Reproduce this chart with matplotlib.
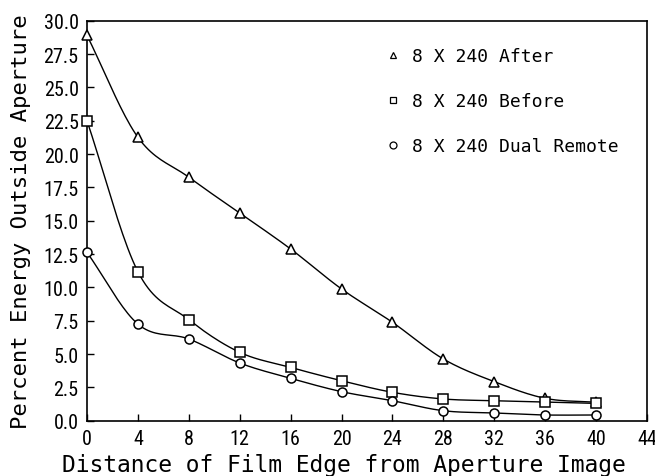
import numpy as np
import matplotlib
matplotlib.use("Agg")
import matplotlib.pyplot as plt
from matplotlib.lines import Line2D
from matplotlib import font_manager as fm

distance = [0, 4, 8, 12, 16, 20, 24, 28, 32, 36, 40]
after = [28.9, 21.26, 18.26, 15.58, 12.88, 9.88, 7.38, 4.63, 2.93, 1.68, 1.38]
before = [22.5, 11.18, 7.58, 5.13, 4.0, 3.0, 2.13, 1.63, 1.5, 1.4, 1.3]
dual_remote = [12.63, 7.25, 6.13, 4.33, 3.18, 2.18, 1.5, 0.75, 0.58, 0.43, 0.43]
labels = ["8 X 240 After", "8 X 240 Before", "8 X 240 Dual Remote"]
markers = ["^", "s", "o"]
x_ticks = list(range(0, 45, 4))
y_ticks = [i * 2.5 for i in range(13)]


def smooth(x, y, n=20):
    """Catmull-Rom curve through the given points (for drawing only)."""
    x = np.asarray(x, float)
    y = np.asarray(y, float)
    px = np.concatenate([[2 * x[0] - x[1]], x, [2 * x[-1] - x[-2]]])
    py = np.concatenate([[2 * y[0] - y[1]], y, [2 * y[-1] - y[-2]]])
    xs, ys = [], []
    t = np.linspace(0, 1, n, endpoint=False)
    for i in range(1, len(px) - 2):
        for p, out in ((px, xs), (py, ys)):
            p0, p1, p2, p3 = p[i - 1], p[i], p[i + 1], p[i + 2]
            out.extend(0.5 * ((2 * p1) + (-p0 + p2) * t
                              + (2 * p0 - 5 * p1 + 4 * p2 - p3) * t ** 2
                              + (-p0 + 3 * p1 - 3 * p2 + p3) * t ** 3))
    xs.append(x[-1])
    ys.append(y[-1])
    return np.array(xs), np.array(ys)


def narrow_font():
    pref = ["Liberation Sans Narrow", "Roboto Condensed", "Open Sans Condensed",
            "Noto Sans Condensed", "DejaVu Sans Condensed"]
    found = {}
    for f in fm.fontManager.ttflist:
        st = str(f.stretch).lower()
        cond = ("narrow" in f.name.lower() or "condensed" in f.name.lower()
                or "condensed" in st or (st.isdigit() and int(st) < 500)
                or "condensed" in f.fname.lower() or "narrow" in f.fname.lower())
        if cond and f.weight in (400, "normal", "regular") and f.style == "normal":
            found.setdefault(f.name, f.fname)
    for p in pref:
        if p in found:
            return fm.FontProperties(fname=found[p])
    for name, fname in found.items():
        if "mono" not in name.lower():
            return fm.FontProperties(fname=fname)
    return fm.FontProperties(family="DejaVu Sans")


mono = ["DejaVu Sans Mono"]
tickfont = narrow_font()
tickfont.set_size(14.5)

fig = plt.figure(figsize=(6.55, 4.77), dpi=100)
ax = fig.add_axes([0.1328, 0.1159, 0.9878 - 0.1328, 0.9545 - 0.1159])

handles = []
for series, lab, m in zip([after, before, dual_remote], labels, markers):
    sx, sy = smooth(distance, series)
    ax.plot(sx, sy, color="black", lw=1.0, zorder=2)
    ax.plot(distance, series, linestyle="none", marker=m,
            markersize=7 if m == "^" else 6.5,
            markerfacecolor="white", markeredgecolor="black",
            markeredgewidth=1.1, zorder=3, clip_on=False)
    handles.append(Line2D([], [], linestyle="none", marker=m, markersize=5,
                          markerfacecolor="white", markeredgecolor="black",
                          markeredgewidth=0.9, label=lab))

ax.set_xlim(0, 44)
ax.set_ylim(0, 30)
ax.set_xticks(x_ticks)
ax.set_yticks(y_ticks)
ax.set_yticklabels([f"{v:.1f}" for v in y_ticks])
ax.tick_params(direction="in", length=5, width=1.0, pad=6)
for lbl in ax.get_xticklabels() + ax.get_yticklabels():
    lbl.set_fontproperties(tickfont)
for sp in ax.spines.values():
    sp.set_linewidth(1.2)

ax.set_xlabel("Distance of Film Edge from Aperture Image",
              family=mono, fontsize=16.5, va="center")
ax.xaxis.set_label_coords((344 - 87) / 560, (421.7 - 465) / 400)
ax.set_ylabel("Percent Energy Outside Aperture",
              family=mono, fontsize=16, va="center")
ax.yaxis.set_label_coords((21 - 87) / 560, (421.7 - 221.5) / 400)

leg = ax.legend(handles=handles, loc="upper left",
                bbox_to_anchor=(0.508, 0.975), frameon=False,
                handlelength=0.6, handletextpad=0.75, labelspacing=1.5,
                prop={"family": mono, "size": 13})

fig.savefig("out.png", dpi=100)
